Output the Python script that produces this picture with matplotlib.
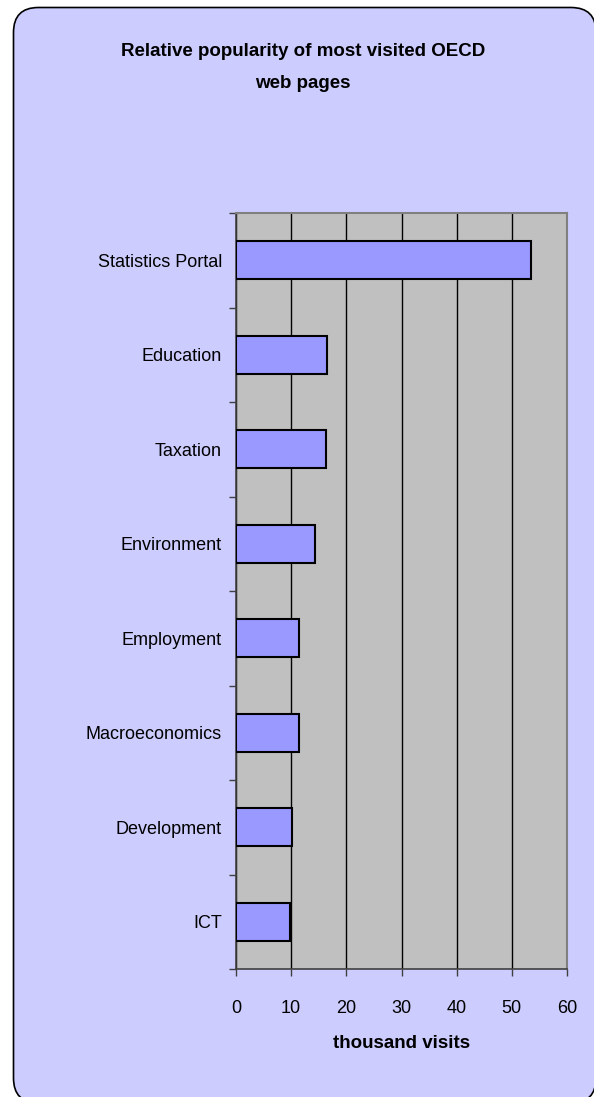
import matplotlib.pyplot as plt
from matplotlib.patches import FancyBboxPatch

plt.rcParams['font.family'] = ['Liberation Sans', 'DejaVu Sans']

pages = ['Statistics Portal', 'Education', 'Taxation', 'Environment',
         'Employment', 'Macroeconomics', 'Development', 'ICT']
visits = [53.5, 16.5, 16.3, 14.4, 11.4, 11.4, 10.1, 9.8]
xticks = [0, 10, 20, 30, 40, 50, 60]

W, H = 594, 1097
fig = plt.figure(figsize=(W / 100, H / 100), dpi=100)
fig.patch.set_facecolor('white')

# rounded chart frame, slightly larger than the picture on the right/bottom
frame = FancyBboxPatch((13.5 / W, -6 / H), (596 - 13.5) / W, (1103 - 7.5) / H,
                       boxstyle='round,pad=0,rounding_size=0.042',
                       transform=fig.transFigure, facecolor='#CCCCFF',
                       edgecolor='black', linewidth=1.2,
                       mutation_aspect=W / H, zorder=-10)
fig.patches.append(frame)

ax = fig.add_axes([236 / W, 1 - 969 / H, (567 - 236) / W, (969 - 213) / H])
ax.set_facecolor('#C0C0C0')

pos = list(range(len(pages)))
ax.barh(pos, visits, height=0.4, color='#9999FF', edgecolor='black',
        linewidth=1.5, zorder=3)

ax.set_xlim(0, 60)
ax.set_ylim(len(pages) - 0.5, -0.5)
ax.set_xticks(xticks)
ax.set_xticklabels([str(t) for t in xticks], fontsize=13)
ax.set_yticks(pos)
ax.set_yticklabels(pages, fontsize=13)
ax.set_yticks([i - 0.5 for i in range(len(pages) + 1)], minor=True)
ax.tick_params(axis='y', which='major', length=0, pad=10)
ax.tick_params(axis='y', which='minor', length=5, width=1, color='#404040')
ax.tick_params(axis='x', length=5, width=1, color='#404040', pad=17)

ax.grid(axis='x', color='black', linewidth=1, zorder=1)
ax.set_axisbelow(True)
for s in ['top', 'right']:
    ax.spines[s].set_color('#808080')
    ax.spines[s].set_linewidth(1.5)
for s in ['left', 'bottom']:
    ax.spines[s].set_color('#404040')
    ax.spines[s].set_linewidth(1.2)

ax.set_xlabel('thousand visits', fontsize=13.5, fontweight='bold', labelpad=13)

fig.text(303 / W, 1 - 51 / H, 'Relative popularity of most visited OECD',
         ha='center', va='center', fontsize=13.5, fontweight='bold')
fig.text(303 / W, 1 - 83 / H, 'web pages',
         ha='center', va='center', fontsize=13.5, fontweight='bold')

fig.savefig('out.png', dpi=100)
